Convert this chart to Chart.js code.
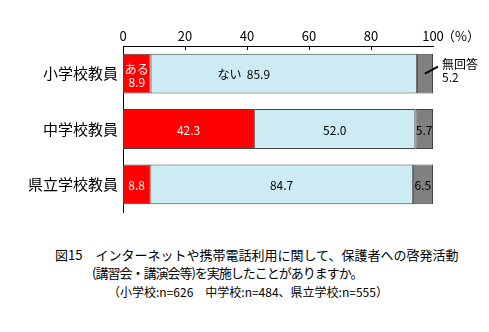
<!DOCTYPE html>
<html lang="ja">
<head>
<meta charset="UTF-8" />
<script src="https://cdn.jsdelivr.net/npm/chart.js@4.4.1/dist/chart.umd.min.js"></script>
<style>
  body { margin: 0; background: #fff; font-family: "Noto Sans CJK JP", sans-serif; }
  #wrap { position: relative; width: 489px; height: 332px; }
  #box { position: absolute; left: 0; top: 0; width: 489px; height: 226px; }
  .cap { position: absolute; color: #000; white-space: nowrap; line-height: 1; }
</style>
</head>
<body>
<div id="wrap">
  <div id="box"><canvas id="myChart"></canvas></div>
  <div class="cap" style="left:55px; top:248px; font-size:13px;">図15　インターネットや携帯電話利用に関して、保護者への啓発活動</div>
  <div class="cap" style="left:92px; top:266px; font-size:13px; letter-spacing:-1px;">(講習会・講演会等)を実施したことがありますか。</div>
  <div class="cap" style="left:108px; top:286px; font-size:12px;">（小学校:n=626　中学校:n=484、県立学校:n=555）</div>
</div>

<script>
const categories = ['小学校教員', '中学校教員', '県立学校教員'];
const aru = [8.9, 42.3, 8.8];        // ある
const nai = [85.9, 52.0, 84.7];      // ない
const mukaitou = [5.2, 5.7, 6.5];    // 無回答
const xTicks = [0, 20, 40, 60, 80, 100];

const FONT = '"Noto Sans CJK JP", sans-serif';

// value labels inside / beside each bar segment
const barLabels = {
  id: 'barLabels',
  afterDatasetsDraw(chart) {
    const ctx = chart.ctx;
    ctx.save();
    ctx.font = '12px ' + FONT;
    ctx.textAlign = 'center';
    ctx.textBaseline = 'middle';
    chart.data.datasets.forEach((ds, di) => {
      const meta = chart.getDatasetMeta(di);
      meta.data.forEach((bar, i) => {
        const v = ds.data[i];
        const cx = (bar.x + bar.base) / 2;
        const cy = bar.y + 1;
        const txt = v.toFixed(1);
        if (di === 0) {
          ctx.fillStyle = '#fff';
          if (i === 0) {
            ctx.fillText('ある', cx, cy - 5);
            ctx.fillText(txt, cx, cy + 8);
          } else {
            ctx.fillText(txt, cx, cy);
          }
        } else if (di === 1) {
          ctx.fillStyle = '#000';
          if (i === 0) {
            ctx.fillText('ない  ' + txt, cx - 40, cy);
          } else {
            ctx.fillText(txt, cx, cy);
          }
        } else {
          ctx.fillStyle = '#000';
          if (i === 0) {
            // leader line to the outside label
            ctx.strokeStyle = '#000';
            ctx.lineWidth = 2;
            ctx.beginPath();
            ctx.moveTo(cx, bar.y);
            ctx.lineTo(cx + 13, bar.y - 7);
            ctx.stroke();
            ctx.textAlign = 'left';
            ctx.fillText('無回答', bar.x + 9, cy - 10);
            ctx.fillText(txt, bar.x + 9, cy + 3);
            ctx.textAlign = 'center';
          } else {
            ctx.fillText(txt, cx, cy);
          }
        }
      });
    });
    ctx.restore();
  }
};

// inward tick marks on the top axis and the (%) unit
const axisExtras = {
  id: 'axisExtras',
  afterDraw(chart) {
    const ctx = chart.ctx;
    const x = chart.scales.x;
    const top = chart.chartArea.top;
    ctx.save();
    ctx.strokeStyle = '#000';
    ctx.lineWidth = 1;
    xTicks.forEach(t => {
      if (t === 0 || t === 100) return;
      const px = Math.round(x.getPixelForValue(t)) + 0.5;
      ctx.beginPath();
      ctx.moveTo(px, top);
      ctx.lineTo(px, top + 4);
      ctx.stroke();
    });
    ctx.font = '13px ' + FONT;
    ctx.fillStyle = '#000';
    ctx.textAlign = 'left';
    ctx.textBaseline = 'middle';
    ctx.fillText('（%）', x.getPixelForValue(100) + 9, 36);
    ctx.restore();
  }
};

const ctx = document.getElementById('myChart').getContext('2d');
new Chart(ctx, {
  type: 'bar',
  data: {
    labels: categories,
    datasets: [
      { label: 'ある', data: aru, backgroundColor: '#ff0000' },
      { label: 'ない', data: nai, backgroundColor: '#cdebf2' },
      { label: '無回答', data: mukaitou, backgroundColor: '#808080' }
    ].map(d => Object.assign(d, {
      borderColor: '#444',
      borderWidth: 1,
      borderSkipped: false,
      barPercentage: 0.72,
      categoryPercentage: 1.0
    }))
  },
  options: {
    indexAxis: 'y',
    responsive: true,
    maintainAspectRatio: false,
    animation: false,
    layout: { padding: { left: 0, right: 56, top: 0, bottom: 4 } },
    plugins: {
      legend: { display: false },
      tooltip: { enabled: false }
    },
    scales: {
      x: {
        position: 'top',
        stacked: true,
        min: 0,
        max: 100,
        afterBuildTicks: s => { s.ticks = xTicks.map(v => ({ value: v })); },
        afterFit: s => { s.height = 46; },
        grid: { display: false, drawTicks: false },
        border: { display: true, color: '#000', width: 1 },
        ticks: {
          color: '#000',
          padding: 2,
          font: { family: FONT, size: 13 }
        }
      },
      y: {
        stacked: true,
        afterFit: s => { s.width = 123; },
        grid: { display: false, drawTicks: false },
        border: { display: true, color: '#000', width: 1 },
        ticks: {
          color: '#000',
          padding: 5,
          font: { family: FONT, size: 15 }
        }
      }
    }
  },
  plugins: [barLabels, axisExtras]
});
</script>
</body>
</html>
